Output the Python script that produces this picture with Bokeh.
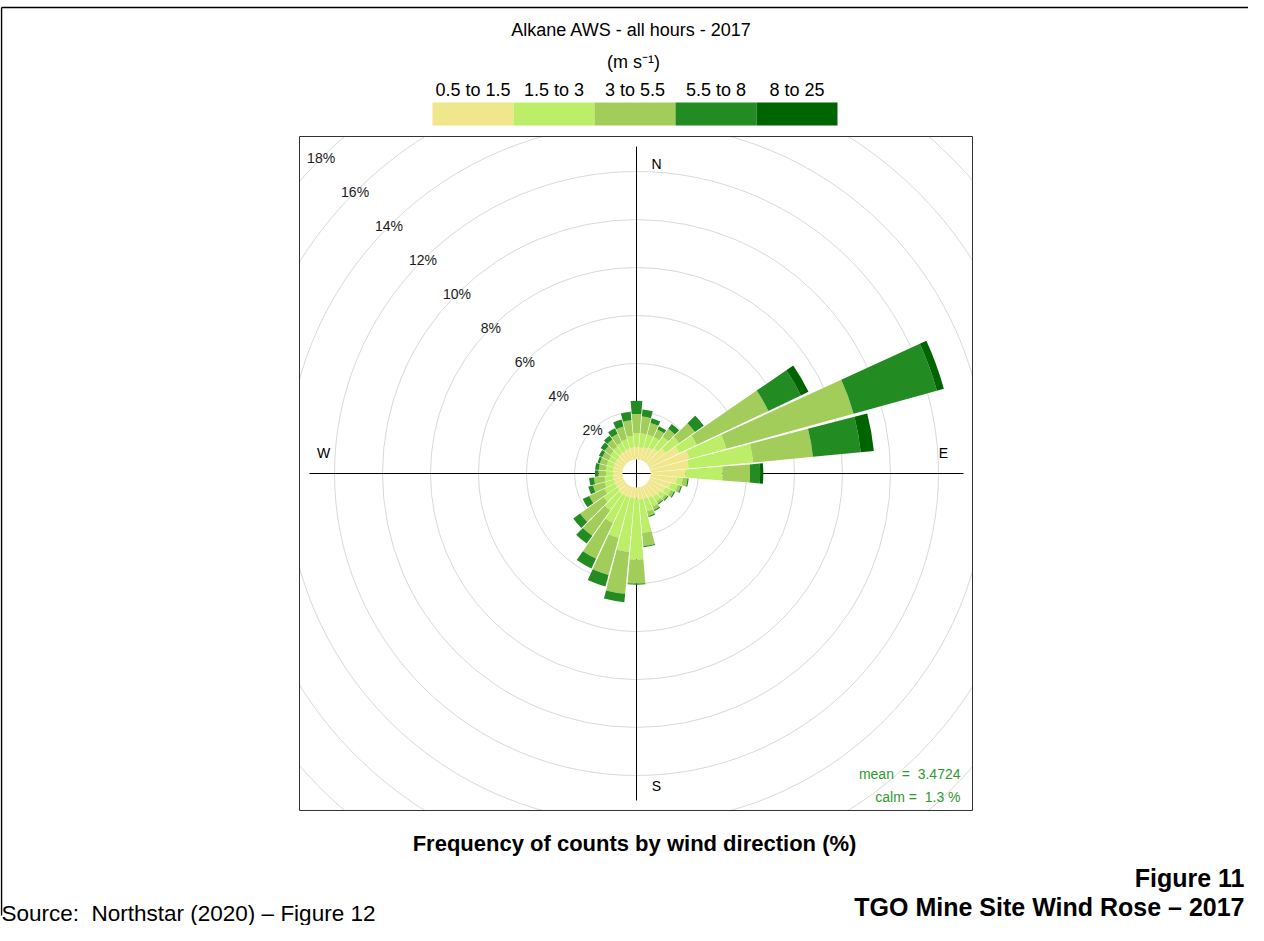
import numpy as np
from bokeh.plotting import figure
from bokeh.models import Range1d, ColumnDataSource
from bokeh.core.properties import value
from bokeh.embed import file_html
from bokeh.resources import INLINE

# ---------------- data ----------------
title = "Alkane AWS - all hours - 2017"
units_label = "(m s\u207b\u00b9)"
bins = ["0.5 to 1.5", "1.5 to 3", "3 to 5.5", "5.5 to 8", "8 to 25"]
colors = ["#F0E68C", "#BCEE68", "#A2CD5A", "#228B22", "#006400"]
directions = [10, 20, 30, 40, 50, 60, 70, 80, 90, 100, 110, 120,
              130, 140, 150, 160, 170, 180, 190, 200, 210, 220, 230, 240,
              250, 260, 270, 280, 290, 300, 310, 320, 330, 340, 350, 360]
# frequency (%) per speed bin, by direction
freq_05_15 = [0.50, 0.55, 0.60, 0.70, 0.90, 1.40, 1.70, 1.60, 1.45, 1.10, 0.90, 0.75,
              0.65, 0.60, 0.55, 0.50, 0.50, 0.45, 0.45, 0.45, 0.45, 0.45, 0.40, 0.40,
              0.40, 0.40, 0.40, 0.40, 0.40, 0.40, 0.40, 0.45, 0.45, 0.50, 0.50, 0.55]
freq_15_3 = [0.60, 0.55, 0.50, 0.60, 0.70, 0.80, 1.60, 2.70, 1.55, 0.25, 0.30, 0.25,
             0.25, 0.25, 0.40, 0.55, 1.40, 2.55, 2.25, 1.75, 1.25, 0.85, 0.70, 0.50,
             0.40, 0.35, 0.30, 0.30, 0.30, 0.30, 0.35, 0.35, 0.40, 0.40, 0.50, 0.55]
freq_3_55 = [0.70, 0.50, 0.35, 0.40, 0.80, 3.30, 5.50, 2.50, 1.15, 0.20, 0.13, 0.15,
             0.10, 0.10, 0.15, 0.20, 0.55, 1.00, 1.75, 1.60, 1.65, 1.30, 1.20, 0.70,
             0.50, 0.45, 0.30, 0.30, 0.30, 0.30, 0.30, 0.35, 0.40, 0.55, 0.65, 0.80]
freq_55_8 = [0.30, 0.20, 0.15, 0.25, 0.40, 1.50, 3.60, 2.00, 0.42, 0.05, 0.05, 0.05,
             0.05, 0.05, 0.05, 0.05, 0.05, 0.05, 0.35, 0.50, 0.45, 0.40, 0.35, 0.30,
             0.20, 0.20, 0.15, 0.15, 0.10, 0.15, 0.20, 0.20, 0.25, 0.30, 0.35, 0.55]
freq_8_25 = [0.00, 0.00, 0.00, 0.00, 0.05, 0.35, 0.30, 0.55, 0.13, 0.00, 0.00, 0.00,
             0.00, 0.00, 0.00, 0.00, 0.00, 0.00, 0.00, 0.00, 0.00, 0.00, 0.00, 0.00,
             0.00, 0.00, 0.00, 0.00, 0.00, 0.00, 0.00, 0.00, 0.00, 0.00, 0.00, 0.00]
ring_values = [2, 4, 6, 8, 10, 12, 14, 16, 18]
compass = ["N", "E", "S", "W"]
mean_speed = 3.4724
calm_pct = 1.3

# ---------------- layout constants (reference pixels) ----------------
W, H = 1248, 925
CX, CY, S = 636.0, 473.0, 24.0   # rose centre, pixels per 1 %
OFF = 14.0 / S                   # hole in the middle (in % units)
def X(px): return (px - CX) / S
def Y(py): return (CY - py) / S

FONT = value("Liberation Sans")
NB = "\u00a0"

p = figure(width=W, height=H, output_backend="svg", toolbar_location=None,
           x_range=Range1d(X(0), X(W)), y_range=Range1d(Y(H), Y(0)),
           min_border=0, outline_line_color=None, background_fill_color="white",
           border_fill_color="white", match_aspect=False)
p.axis.visible = False
p.grid.visible = False

# panel box
pl, pr, pt, pb = X(299), X(972), Y(136), Y(810)

# rings
p.circle(x=[0] * len(ring_values), y=[0] * len(ring_values),
         radius=[OFF + r for r in ring_values], fill_color=None,
         line_color="#D9D9D9", line_width=1)

# white masks clipping rings to the panel
xr0, xr1, yr0, yr1 = X(0), X(W), Y(H), Y(0)
p.quad(left=[xr0, pr, pl, pl], right=[pl, xr1, pr, pr],
       bottom=[yr0, yr0, pt, yr0], top=[yr1, yr1, yr1, pb],
       fill_color="white", line_color=None)
# panel border
p.quad(left=[pl], right=[pr], bottom=[pb], top=[pt], fill_color=None,
       line_color="#333333", line_width=1)

# cross lines
L = 327.0 / S
p.line(x=[-L, L], y=[0, 0], line_color="black", line_width=1)
p.line(x=[0, 0], y=[-L, L], line_color="black", line_width=1)

# bars
series = [freq_05_15, freq_15_3, freq_3_55, freq_55_8, freq_8_25]
cum = np.cumsum(np.array(series), axis=0)
half = np.radians(4.6)
dirs = np.array(directions, dtype=float)
ang = np.radians(90.0 - dirs)
for i in range(len(bins)):
    inner = OFF + (cum[i - 1] if i > 0 else np.zeros(len(dirs)))
    outer = OFF + cum[i]
    keep = outer - inner > 1e-9
    src = ColumnDataSource(dict(inner=inner[keep], outer=outer[keep],
                                start=(ang - half)[keep], end=(ang + half)[keep]))
    p.annular_wedge(x=0, y=0, inner_radius="inner", outer_radius="outer",
                    start_angle="start", end_angle="end", source=src,
                    fill_color=colors[i], line_color=None)

# percentage labels along NW diagonal
rr = np.array([OFF + r for r in ring_values])
p.text(x=list(-rr * np.sin(np.pi / 4)), y=list(rr * np.cos(np.pi / 4)),
       text=[f"{r}%" for r in ring_values], text_font=FONT,
       text_font_size=value("14px"), text_align="center",
       text_baseline="middle", text_color="#1a1a1a")

# compass labels
p.text(x=[X(656), X(943), X(656), X(323)], y=[Y(163), Y(452), Y(785), Y(452)],
       text=compass, text_font=FONT, text_font_size=value("14px"),
       text_align="center", text_baseline="middle", text_color="black")

# mean / calm
p.text(x=[X(960), X(960)], y=[Y(773), Y(796)],
       text=[f"mean{NB}{NB}={NB}{NB}{mean_speed}", f"calm{NB}={NB}{NB}{calm_pct}{NB}%"],
       text_font=FONT, text_font_size=value("14px"), text_align="right",
       text_baseline="middle", text_color="#2E9A2E")

# title + units
p.text(x=[X(631), X(633)], y=[Y(29), Y(61)], text=[title, units_label],
       text_font=FONT, text_font_size=value("18px"), text_align="center",
       text_baseline="middle", text_color="black")

# legend
bw = 81.0 / S
lx0 = X(432)
lefts = [lx0 + i * bw for i in range(len(bins))]
p.quad(left=lefts, right=[l + bw for l in lefts], bottom=[Y(125)] * len(bins),
       top=[Y(102)] * len(bins), fill_color=colors, line_color=None)
p.text(x=[l + bw / 2 for l in lefts], y=[Y(89)] * len(bins), text=bins,
       text_font=FONT, text_font_size=value("18px"), text_align="center",
       text_baseline="middle", text_color="black")

# bottom texts
p.text(x=[X(634)], y=[Y(843)], text=["Frequency of counts by wind direction (%)"],
       text_font=FONT, text_font_size=value("22px"), text_font_style="bold",
       text_align="center", text_baseline="middle", text_color="black")
p.text(x=[X(1244), X(1244)], y=[Y(877), Y(906)],
       text=["Figure 11", "TGO Mine Site Wind Rose \u2013 2017"],
       text_font=FONT, text_font_size=value("25px"), text_font_style="bold",
       text_align="right", text_baseline="middle", text_color="black")
p.text(x=[X(1)], y=[Y(925)], text=[f"Source:{NB}{NB}Northstar (2020) \u2013 Figure 12"],
       text_font=FONT, text_font_size=value("22.5px"), text_align="left",
       text_baseline="bottom", text_color="black")

# page frame lines (top, left)
p.line(x=[X(1), X(W)], y=[Y(7), Y(7)], line_color="black", line_width=1.5)
p.line(x=[X(1), X(1)], y=[Y(7), Y(915)], line_color="black", line_width=1.5)

open("out.html", "w").write(file_html(p, INLINE))
